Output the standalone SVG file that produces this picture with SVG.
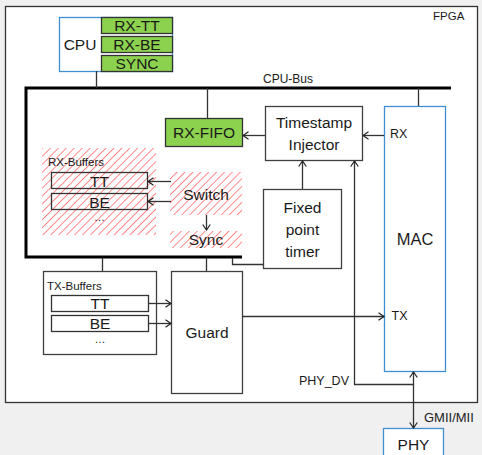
<svg xmlns="http://www.w3.org/2000/svg" width="482" height="455" viewBox="0 0 482 455">
<defs>
<style>
text{font-family:"Liberation Sans",Arial,sans-serif;fill:#1a1a1a}
.c{text-anchor:middle}
.box{fill:#fff;stroke:#404040;stroke-width:1.3}
.blue{fill:#fff;stroke:#3f8fd2;stroke-width:1.3}
.green{fill:#8cd24e;stroke:#333;stroke-width:1.3}
.open{fill:none;stroke:#333;stroke-width:1.3}
.ln{fill:none;stroke:#333;stroke-width:1.3}
.arr{marker-end:url(#ah)}
.f15{font-size:15.5px}
.f12{font-size:12px}
</style>
<marker id="ah" markerUnits="userSpaceOnUse" markerWidth="8" markerHeight="10" viewBox="-1 -5 8 10" refX="5.5" refY="0" orient="auto-start-reverse">
<path d="M0,-3.8 L5.5,0 L0,3.8" fill="none" stroke="#222" stroke-width="1.2"/>
</marker>
<pattern id="hatch" width="5.6" height="5.6" patternUnits="userSpaceOnUse" patternTransform="rotate(45)">
<line x1="0" y1="0" x2="0" y2="5.6" stroke="#ff4a4a" stroke-width="1.3"/>
</pattern>
</defs>
<rect width="482" height="455" fill="#f0f0f0"/>
<g id="fpga">
<rect x="5.5" y="6.5" width="472" height="396" fill="#fff" stroke="#333" stroke-width="1.3"/>
<text x="433" y="20" style="font-size:11.5px">FPGA</text>
</g>
<g id="bus">
<path d="M242,257 H26 V88 H451" fill="none" stroke="#000" stroke-width="3"/>
<text x="263" y="83" class="f12">CPU-Bus</text>
</g>
<g id="rx-buffers">
<rect x="42" y="148" width="114" height="87" fill="url(#hatch)"/>
<text x="48" y="166" style="font-size:11.5px">RX-Buffers</text>
<rect x="51.5" y="172.5" width="96" height="16" class="open"/>
<text x="99.5" y="187" class="c f15">TT</text>
<rect x="51.5" y="193.5" width="96" height="16" class="open"/>
<text x="99.5" y="207.5" class="c f15">BE</text>
<text x="99.5" y="221" class="c" style="font-size:11px">…</text>
</g>
<g id="switch">
<rect x="170" y="172" width="72" height="43" fill="url(#hatch)"/>
<text x="206" y="200" class="c f15">Switch</text>
</g>
<g id="sync">
<rect x="170" y="231" width="72" height="17" fill="url(#hatch)"/>
<text x="206" y="244.5" class="c f15">Sync</text>
</g>
<g id="cpu">
<rect x="59.5" y="17.5" width="113" height="54" class="blue"/>
<text x="80" y="50" class="c f15">CPU</text>
<rect x="101.5" y="17.5" width="71" height="16" class="green"/>
<text x="137" y="30.5" class="c f15">RX-TT</text>
<rect x="101.5" y="36.5" width="71" height="16" class="green"/>
<text x="137" y="49.5" class="c f15">RX-BE</text>
<rect x="101.5" y="55.5" width="71" height="16" class="green"/>
<text x="137" y="68.5" class="c f15">SYNC</text>
</g>
<g id="rx-fifo">
<rect x="165.5" y="118.5" width="77" height="28" class="green"/>
<text x="204" y="138" class="c f15">RX-FIFO</text>
</g>
<g id="timestamp-injector">
<rect x="265.5" y="106.5" width="97" height="54" class="box"/>
<text x="314" y="128" class="c f15">Timestamp</text>
<text x="314" y="150" class="c f15">Injector</text>
</g>
<g id="timer">
<rect x="263.5" y="189.5" width="78" height="79" class="box"/>
<text x="302.5" y="213" class="c f15">Fixed</text>
<text x="302.5" y="235" class="c f15">point</text>
<text x="302.5" y="257" class="c f15">timer</text>
</g>
<g id="mac">
<rect x="384.5" y="106.5" width="61" height="265" class="blue"/>
<text x="415" y="245" class="c" style="font-size:16.5px">MAC</text>
<text x="390" y="138" style="font-size:12.5px">RX</text>
<text x="391.5" y="320" style="font-size:12.5px">TX</text>
</g>
<g id="tx-buffers">
<rect x="43.5" y="271.5" width="113" height="83" class="box"/>
<text x="47" y="290" style="font-size:11.5px">TX-Buffers</text>
<rect x="51.5" y="295.5" width="97" height="16" class="open"/>
<text x="100" y="309" class="c f15">TT</text>
<rect x="51.5" y="315.5" width="97" height="16" class="open"/>
<text x="100" y="329" class="c f15">BE</text>
<text x="100" y="343" class="c" style="font-size:11px">…</text>
</g>
<g id="guard">
<rect x="171.5" y="271.5" width="71" height="122" class="box"/>
<text x="207" y="338" class="c f15">Guard</text>
</g>
<g id="phy">
<rect x="383.5" y="428.5" width="60" height="40" class="blue"/>
<text x="413.5" y="450" class="c f15">PHY</text>
</g>
<g id="connectors">
<path d="M96.5,71 V88" class="ln"/>
<path d="M207.5,88 V118" class="ln"/>
<path d="M418.5,88 V106" class="ln"/>
<path d="M265,135.5 H243" class="ln arr"/>
<path d="M384,135.5 H363" class="ln arr"/>
<path d="M302.5,189 V161" class="ln arr"/>
<path d="M413.5,384.5 H354.5 V161" class="ln arr"/>
<path d="M413.5,372 V428" class="ln" marker-start="url(#ah)" marker-end="url(#ah)"/>
<path d="M242,316.5 H384" class="ln arr"/>
<path d="M148,303.5 H171" class="ln arr"/>
<path d="M148,323.5 H171" class="ln arr"/>
<path d="M171,181.5 H148" class="ln arr"/>
<path d="M171,201.5 H148" class="ln arr"/>
<path d="M206.5,215 V230" class="ln arr"/>
<path d="M102.5,258 V271" class="ln"/>
<path d="M206.5,258 V271" class="ln"/>
<path d="M232.5,258 V264.5 H263" class="ln"/>
<text x="349" y="385" class="f12" style="text-anchor:end;font-size:12.5px">PHY_DV</text>
<text x="424" y="421.5" style="font-size:13px">GMII/MII</text>
</g>
</svg>
